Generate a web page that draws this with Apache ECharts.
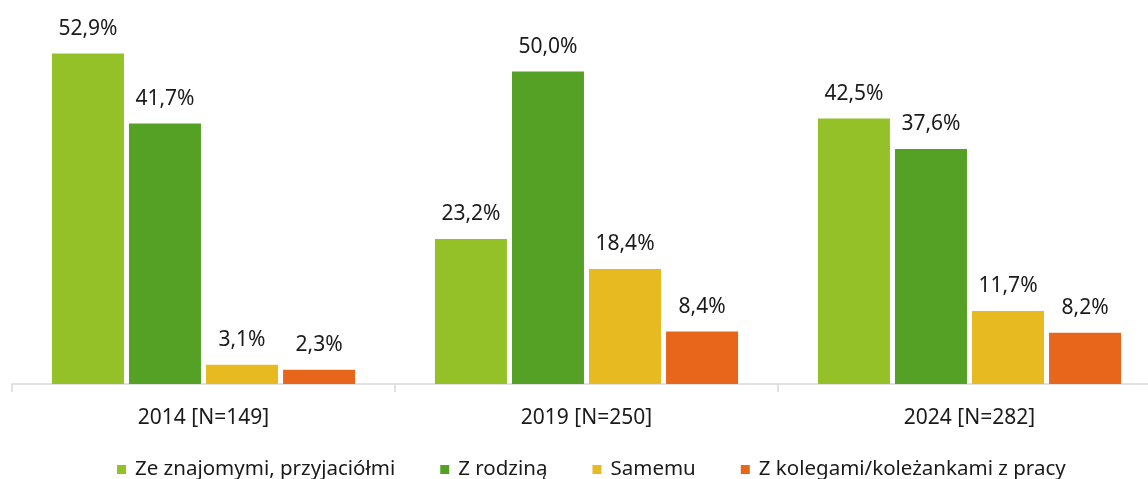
<!DOCTYPE html>
<html>
<head>
<meta charset="utf-8">
<script src="https://cdn.jsdelivr.net/npm/echarts@6/dist/echarts.min.js"></script>
<style>
  html, body { margin: 0; padding: 0; background: #fff; overflow: hidden; }
  #chart { width: 1165px; height: 479px; }
</style>
</head>
<body>
<div id="chart"></div>
<script>
// dane z wykresu
var categories = ["2014 [N=149]", "2019 [N=250]", "2024 [N=282]"];
var seriesNames = ["Ze znajomymi, przyjaciółmi", "Z rodziną", "Samemu", "Z kolegami/koleżankami z pracy"];
var znajomi = [52.9, 23.2, 42.5];
var rodzina = [41.7, 50.0, 37.6];
var samemu = [3.1, 18.4, 11.7];
var koledzy = [2.3, 8.4, 8.2];
var colors = ["#93c127", "#55a125", "#e6ba20", "#e8661b"];

var font = "'Noto Sans', 'DejaVu Sans', sans-serif";

function bar(name, data, color) {
  return {
    name: name,
    type: "bar",
    data: data,
    barWidth: 72,
    barGap: "7%",
    itemStyle: { color: color },
    label: {
      show: true,
      position: "top",
      distance: 14,
      fontFamily: font,
      fontSize: 21,
      color: "#1a1a1a",
      formatter: function (p) {
        return p.value.toFixed(1).replace(".", ",") + "%";
      }
    }
  };
}

// wykres jest szerszy niż okno - prawa krawędź osi wychodzi poza kadr
var myChart = echarts.init(document.getElementById("chart"));
var option = {
  animation: false,
  color: colors,
  grid: { left: 12, right: 4, top: 9, bottom: 95 },
  legend: {
    data: seriesNames,
    top: 454,
    left: 112,
    icon: "rect",
    itemWidth: 9,
    itemHeight: 9,
    itemGap: 45,
    textStyle: { fontFamily: font, fontSize: 20.5, color: "#1a1a1a", padding: [0, 0, 0, 4] }
  },
  xAxis: {
    type: "category",
    data: categories,
    axisLine: { lineStyle: { color: "#d9d9d9", width: 1.5 } },
    axisTick: { show: true, length: 8, lineStyle: { color: "#d9d9d9", width: 1.5 } },
    axisLabel: { margin: 24, fontFamily: font, fontSize: 21, color: "#1a1a1a" }
  },
  yAxis: {
    type: "value",
    min: 0,
    max: 60,
    show: false,
    splitLine: { show: false }
  },
  series: [
    bar(seriesNames[0], znajomi, colors[0]),
    bar(seriesNames[1], rodzina, colors[1]),
    bar(seriesNames[2], samemu, colors[2]),
    bar(seriesNames[3], koledzy, colors[3])
  ]
};
myChart.setOption(option);
</script>
</body>
</html>
